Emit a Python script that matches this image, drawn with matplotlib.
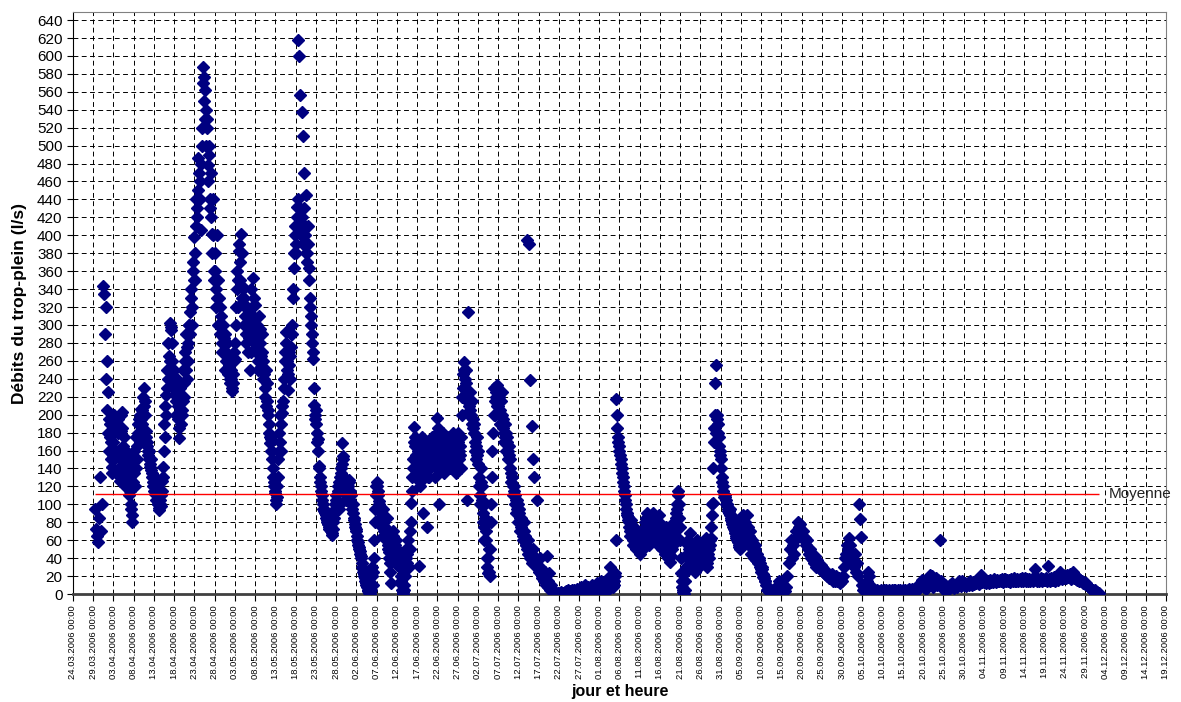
import pandas as pd
import matplotlib
matplotlib.use('Agg')
import matplotlib.pyplot as plt

plt.rcParams['font.family'] = ['Liberation Sans', 'DejaVu Sans']

# overflow discharge, one value every 6 hours (00, 06, 12, 18 h)
mar = [95, 72,
       65, 58, 85, 130,
       70, 100, 344, 334]

apr = [290, 240, 205, 180,  160, 190, 150, 142,  170, 200, 135, 185,  195, 160, 126, 182,
       203, 150, 175, 130,  160, 122, 145, 110,  130, 95, 80, 140,    160, 120, 175, 150,
       180, 195, 170, 206,  190, 200, 230, 215,  182, 170, 160, 150,  142, 150, 135, 125,
       115, 130, 105, 110,  100, 94, 105, 98,    126, 142, 190, 210,  222, 250, 280, 240,
       302, 294, 260, 230,  250, 222, 200, 240,  210, 174, 230, 190,  200, 250, 220, 270,
       290, 240, 280, 300,  314, 340, 300, 370,  398, 350, 440, 420,  486, 460, 406, 500,
       588, 576, 562, 540,  530, 478, 500, 440,  470, 402, 440, 360,  380, 320, 400, 300,
       330, 290, 310, 280,  300, 270, 290, 260]

may = [280, 250, 265, 240,  250, 226, 235, 260,  262, 300, 340, 320,  382, 350, 402, 330,
       342, 300, 320, 280,  320, 270, 300, 250,  340, 290, 352, 300,  322, 270, 300, 250,
       310, 280, 250, 290,  260, 240, 220, 250,  215, 200, 180, 168,  173, 150, 130, 120,
       113, 100, 108, 150,  180, 200, 160, 202,  230, 260, 292, 250,  228, 270, 240, 290,
       290, 330, 364, 400,  380, 432, 618, 600,  556, 420, 537, 511,  469, 400, 445, 380,
       410, 364, 330, 300,  290, 262, 211, 195,  205, 180, 173, 143,  130, 120, 110, 100,
       95, 90, 85, 80,      78, 75, 85, 70,      66, 80, 90, 100,     110, 100, 120, 95,
       130, 141, 168, 154,  125, 115, 105, 120,  120, 127, 105, 110]

jun = [95, 100, 82, 75,     70, 60, 55, 50,      45, 40, 30, 25,      20, 15, 10, 5,
       2, 0, 5, 20,         10, 40, 80, 110,     125, 115, 104, 95,   90, 80, 95, 70,
       75, 60, 85, 55,      47, 25, 12, 60,      70, 55, 45, 60,      50, 40, 30, 45,
       20, 10, 0, 5,        30, 50, 35, 60,      30, 70, 101, 130,    150, 186, 165, 140,
       130, 160, 31, 120,   150, 175, 90, 165,   140, 155, 75, 160,   130, 170, 150, 160,
       145, 175, 130, 165,  196, 150, 100, 170,  160, 140, 180, 135,  150, 170, 160, 145,
       175, 140, 165, 180,  155, 170, 135, 160,  180, 150, 165, 140,  200, 230, 259, 240,
       250, 105, 315, 210,  225, 200, 215, 185]

jul = [190, 170, 150, 175,  160, 130, 100, 140,  120, 90, 60, 100,    70, 40, 23, 50,
       20, 80, 130, 180,    230, 200, 220, 233,  210, 225, 190, 215,  200, 185, 170, 190,
       160, 175, 150, 165,  140, 125, 130, 110,  120, 100, 90, 105,   80, 95, 70, 85,
       70, 60, 80, 65,      55, 395, 45, 390,    239, 40, 187, 150,   130, 35, 105, 30,
       30, 40, 25, 20,      20, 15, 25, 10,      42, 15, 23, 5,       10, 5, 3, 2,
       2, 1, 0, 1,          0, 1, 2, 0,          1, 0, 2, 3,          2, 4, 1, 3,
       3, 5, 2, 4,          2, 3, 6, 2,          3, 5, 8, 4,          6, 3, 10, 5,
       4, 8, 2, 6,          5, 10, 3, 8,         4, 6, 12, 5]

aug = [8, 3, 15, 6,         5, 10, 4, 12,        8, 18, 6, 30,        10, 20, 8, 15,
       23, 218, 185, 170,   160, 150, 140, 130,  120, 110, 100, 90,   86, 80, 70, 83,
       65, 60, 75, 70,      55, 65, 50, 60,      45, 55, 70, 50,      60, 80, 65, 90,
       70, 55, 85, 60,      75, 90, 85, 70,      65, 80, 60, 88,      55, 70, 50, 65,
       60, 45, 75, 55,      40, 50, 36, 60,      70, 55, 80, 65,      90, 100, 115, 85,
       60, 23, 8, 2,        0, 15, 30, 45,       60, 40, 68, 30,      50, 40, 55, 25,
       35, 60, 45, 30,      40, 55, 35, 50,      45, 62, 30, 40,      40, 55, 62, 88,
       101, 170, 235, 255,  200, 190, 175, 160,  150, 130, 120, 112]

sep = [110, 105, 100, 95,   90, 95, 85, 80,      75, 85, 70, 65,      60, 70, 55, 50,
       60, 80, 88, 70,      80, 65, 88, 60,      55, 70, 45, 60,      50, 40, 55, 38,
       45, 35, 40, 30,      25, 30, 19, 20,      15, 10, 5, 8,        3, 5, 2, 0,
       1, 3, 0, 2,          5, 10, 15, 8,        10, 5, 2, 4,         3, 8, 20, 35,
       50, 60, 40, 55,      45, 60, 70, 65,      80, 75, 78, 70,      65, 70, 60, 62,
       55, 60, 50, 45,      50, 40, 45, 38,      35, 42, 30, 38,      34, 30, 28, 32,
       30, 25, 28, 22,      25, 20, 22, 18,      20, 18, 22, 15,      18, 15, 20, 14,
       15, 18, 12, 16,      14, 20, 30, 40]

oct_ = [45, 55, 50, 62,     55, 45, 40, 35,      30, 45, 25, 35,      20, 100, 84, 64,
        10, 5, 8, 3,        4, 15, 25, 20,       10, 5, 3, 2,         3, 2, 4, 3,
        2, 3, 5, 2,         3, 4, 2, 5,          2, 3, 4, 2,          3, 5, 2, 4,
        4, 2, 3, 5,         3, 4, 2, 3,          5, 3, 4, 2,          3, 4, 6, 3,
        4, 6, 3, 5,         5, 8, 4, 6,          7, 10, 12, 16,       14, 8, 12, 6,
        10, 18, 12, 21,     15, 20, 8, 14,       12, 18, 10, 16,      12, 60, 15, 10,
        8, 5, 10, 6,        5, 8, 6, 10,         8, 12, 10, 7,        10, 8, 12, 14,
        12, 9, 14, 11,      10, 12, 9, 11,       12, 10, 14, 12]

nov = [10, 13, 11, 14,      12, 15, 13, 11,      14, 21, 13, 15,      13, 16, 12, 15,
       14, 12, 16, 13,      15, 13, 17, 14,      13, 16, 14, 15,      16, 14, 17, 13,
       15, 17, 14, 16,      14, 16, 13, 17,      16, 14, 18, 15,      15, 17, 14, 16,
       17, 15, 18, 14,      16, 18, 15, 17,      15, 17, 14, 16,      17, 15, 18, 28,
       16, 14, 17, 15,      18, 15, 17, 16,      16, 18, 15, 31,      17, 14, 18, 16,
       16, 19, 15, 17,      18, 16, 20, 25,      19, 17, 21, 18,      20, 18, 21, 19,
       19, 22, 17, 20,      24, 18, 21, 17,      16, 18, 15, 16,      14, 15, 12, 13,
       11, 12, 10, 9,       8, 7, 6, 5]

dec = [4, 3, 4, 2,  2, 1, 1]

# extra readings in between (03, 09, 15, 21 h) for the busy spring/summer part
apr_b = [320, 260, 225, 195,  175, 170, 135, 155,  150, 185, 160, 195,  180, 140, 150, 200,
         185, 165, 140, 120,  140, 130, 155, 120,  115, 100, 88, 125,   135, 150, 140, 165,
         190, 180, 200, 195,  205, 220, 210, 200,  175, 165, 155, 160,  145, 138, 130, 120,
         125, 112, 118, 100,  96, 100, 110, 115,   130, 160, 175, 200,  230, 240, 265, 260,
         298, 280, 250, 240,  235, 215, 225, 195,  185, 200, 220, 205,  215, 235, 260, 250,
         275, 260, 300, 290,  330, 320, 360, 350,  380, 410, 430, 450,  470, 440, 480, 520,
         570, 550, 530, 500,  520, 460, 490, 430,  420, 380, 400, 350,  360, 340, 330, 350,
         300, 320, 290, 270,  280, 285, 250, 270]

may_b = [260, 245, 255, 235,  240, 230, 245, 270,  280, 320, 360, 350,  390, 370, 380, 340,
         330, 310, 290, 300,  310, 285, 290, 270,  320, 310, 330, 280,  300, 285, 260, 280,
         295, 265, 270, 240,  245, 230, 210, 235,  205, 190, 175, 160,  160, 140, 125, 115,
         105, 120, 130, 160,  170, 190, 210, 215,  240, 270, 280, 260,  245, 255, 265, 275,
         300, 340, 380, 410,  390, 420, 440, 410,  430, 400, 420, 390,  430, 410, 380, 370,
         390, 350, 320, 310,  280, 270, 230, 200,  190, 170, 160, 140,  125, 115, 105, 95,
         92, 88, 82, 78,      72, 80, 75, 68,      72, 85, 95, 105,     105, 115, 125, 100,
         135, 145, 150, 130,  120, 110, 112, 115,  125, 115, 100, 100]

jun_b = [90, 85, 78, 72,     65, 58, 52, 48,      42, 35, 28, 22,      18, 12, 8, 3,
         1, 2, 10, 30,       25, 60, 95, 120,     120, 110, 100, 85,   85, 75, 65, 80,
         65, 70, 60, 50,     40, 35, 55, 50,      65, 50, 55, 40,      45, 35, 40, 35,
         15, 5, 2, 10,       20, 40, 45, 50,      50, 80, 115, 140,    170, 175, 155, 150,
         145, 150, 125, 135, 160, 130, 170, 140,  150, 165, 130, 145,  140, 160, 175, 145,
         155, 165, 140, 180, 185, 160, 175, 150,  150, 170, 145, 165,  165, 155, 140, 175,
         160, 150, 170, 155, 165, 145, 175, 150,  170, 160, 155, 175,  220, 245, 250, 230,
         235, 215, 225, 200, 205, 215, 190, 195]

jul_b = [180, 160, 165, 155,  145, 120, 110, 125,  105, 80, 75, 85,    60, 30, 40, 25,
         50, 100, 160, 200,   215, 225, 210, 228,  220, 205, 200, 225,  195, 180, 175, 180,
         170, 160, 155, 150,  135, 130, 120, 115,  110, 105, 95, 100,   90, 85, 75, 80,
         65, 70, 60, 55,      50, 60, 45, 40,      45, 35, 50, 40,      35, 40, 30, 28,
         25, 30, 22, 18,      18, 22, 15, 12,      12, 8, 10, 6,        4, 3, 2, 1]

aug_b = [5, 8, 4, 10,         6, 12, 8, 5,         10, 15, 12, 20,      12, 18, 10, 20,
         60, 200, 175, 165,   155, 145, 135, 125,  115, 105, 95, 88,    82, 75, 65, 78,
         68, 55, 72, 60,      50, 62, 55, 48,      52, 60, 65, 55,      70, 75, 85, 70,
         65, 60, 80, 75,      85, 80, 75, 65,      70, 75, 55, 80,      60, 65, 55, 70,
         50, 55, 65, 48,      45, 55, 42, 50,      60, 75, 70, 85,      95, 110, 100, 75,
         40, 15, 5, 0,        5, 25, 40, 55,       50, 55, 45, 35,      45, 30, 50, 35,
         45, 50, 40, 35,      45, 50, 40, 55,      50, 55, 35, 45,      50, 60, 75, 100,
         140, 185, 200, 180,  195, 180, 165, 155,  140, 125, 115, 108]

sep_b = [108, 100, 98, 92,    92, 88, 82, 78,      80, 72, 68, 62,      65, 58, 52, 55,
         70, 75, 82, 78,      72, 70, 75, 65,      62, 58, 52, 55,      45, 50, 42, 40,
         40, 38, 35, 28,      28, 22, 18, 15]

moyenne = 112

months = [("2006-03-29 12:00", mar), ("2006-04-01", apr), ("2006-05-01", may),
          ("2006-06-01", jun), ("2006-07-01", jul), ("2006-08-01", aug),
          ("2006-09-01", sep), ("2006-10-01", oct_), ("2006-11-01", nov),
          ("2006-12-01", dec),
          ("2006-04-01 03:00", apr_b), ("2006-05-01 03:00", may_b),
          ("2006-06-01 03:00", jun_b), ("2006-07-01 03:00", jul_b),
          ("2006-08-01 03:00", aug_b), ("2006-09-01 03:00", sep_b)]

times, vals = [], []
for start, v in months:
    times.extend(pd.date_range(start, periods=len(v), freq="6h"))
    vals.extend(v)

t_first = pd.Timestamp("2006-03-29 12:00")
t_last = pd.Timestamp("2006-12-02 12:00")

fig = plt.figure(figsize=(11.81, 7.02), dpi=100)
ax = fig.add_axes([73 / 1181, 1 - 594 / 702, (1166 - 73) / 1181, (594 - 12) / 702])

ax.plot(times, vals, ls="none", marker="D", ms=5.8, color="#000080",
        mec="#000080", mew=1.0, zorder=3)

# mean line
ax.hlines(moyenne, t_first, t_last, colors="red", lw=1, zorder=4)
ax.annotate("Moyenne", xy=(t_last, moyenne), xytext=(7, 0),
            textcoords="offset points", va="center", ha="left",
            fontsize=11, color="#222222", annotation_clip=False)

xticks = pd.date_range("2006-03-24", "2006-12-19", freq="5D")
ax.set_xticks(xticks)
ax.set_xticklabels([t.strftime("%d.%m.%Y %H:%M") for t in xticks],
                   rotation=90, fontsize=6.8)
ax.set_xlim(xticks[0], xticks[-1])

ax.set_yticks(range(0, 641, 20))
ax.set_ylim(0, 649)
ax.tick_params(axis="y", labelsize=11, length=4, width=0.8)
ax.tick_params(axis="x", length=5, width=0.8, pad=3)

ax.grid(True, color="black", lw=0.7, ls=(0, (5, 3.5)))
ax.set_axisbelow(True)

for s in ["top", "right"]:
    ax.spines[s].set_color("#808080")
ax.spines["left"].set_color("black")
ax.spines["bottom"].set_color("#404040")
ax.spines["bottom"].set_linewidth(2)

ax.set_ylabel("Débits du trop-plein (l/s)", fontsize=12.5, fontweight="bold")
ax.yaxis.set_label_coords(-0.042, 0.5)
ax.set_xlabel("jour et heure", fontsize=11.5, fontweight="bold")
ax.xaxis.set_label_coords(0.5, -0.155)

fig.savefig("out.png", dpi=100)
